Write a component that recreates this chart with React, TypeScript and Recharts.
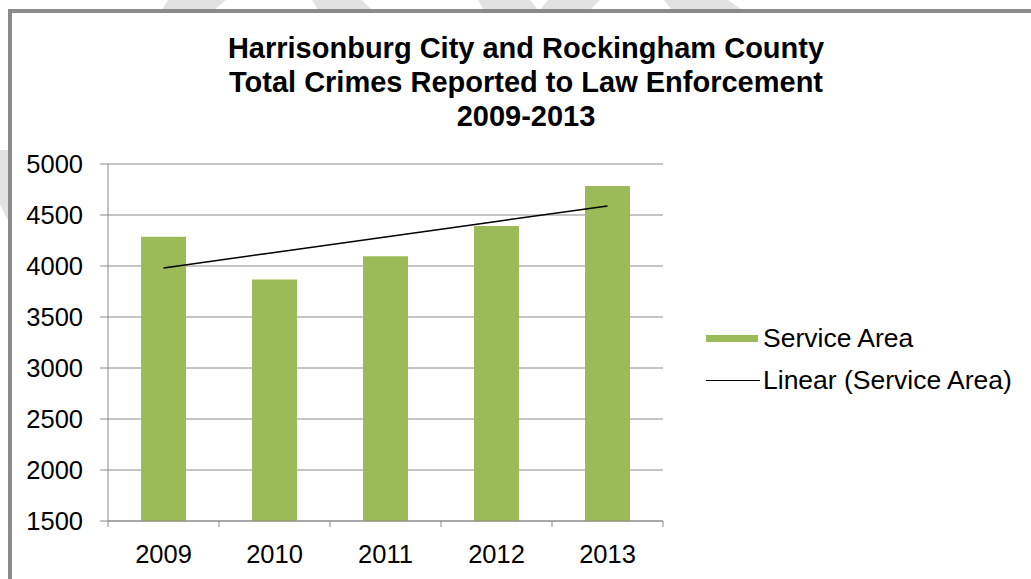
import React from 'react'
import { ComposedChart, Bar, Line, XAxis, YAxis, CartesianGrid, Legend } from 'recharts'

const years = ['2009', '2010', '2011', '2012', '2013']
const serviceArea = [4286, 3867, 4096, 4391, 4784]
const yTicks = [1500, 2000, 2500, 3000, 3500, 4000, 4500, 5000]
const titleLines = [
  'Harrisonburg City and Rockingham County',
  'Total Crimes Reported to Law Enforcement',
  '2009-2013',
]

// Excel-style linear trendline (least squares over the bar values)
const n = serviceArea.length
const meanX = (n - 1) / 2
const meanY = serviceArea.reduce((s, v) => s + v, 0) / n
const slope =
  serviceArea.reduce((s, v, i) => s + (i - meanX) * (v - meanY), 0) /
  serviceArea.reduce((s, _v, i) => s + (i - meanX) ** 2, 0)

const data = years.map((year, i) => ({
  year,
  value: serviceArea[i],
  trend: meanY + slope * (i - meanX),
}))

const FONT = '"Liberation Sans", Arial, sans-serif'
const GREEN = '#9bbb59'
const GRID = '#8a8a8a'

function YearTick(props: any) {
  const { x, y, payload } = props
  const half = payload.offset || 55.5
  const last = payload.value === years[years.length - 1]
  return (
    <g>
      <line x1={x - half} x2={x - half} y1={y} y2={y + 6} stroke={GRID} />
      {last && <line x1={x + half} x2={x + half} y1={y} y2={y + 6} stroke={GRID} />}
      <text x={x} y={y + 24} dy="0.71em" textAnchor="middle" fontSize={25.5} fill="#000" fontFamily={FONT}>
        {payload.value}
      </text>
    </g>
  )
}

function LegendBox() {
  const row = { display: 'flex', alignItems: 'center', height: 42, fontSize: 26.5, fontFamily: FONT, color: '#000' }
  return (
    <div>
      <div style={row}>
        <span style={{ display: 'inline-block', width: 52, height: 7, background: GREEN, marginRight: 5 }} />
        Service Area
      </div>
      <div style={row}>
        <span style={{ display: 'inline-block', width: 54, height: 0, borderTop: '1.5px solid #000', marginRight: 3 }} />
        Linear (Service Area)
      </div>
    </div>
  )
}

export default function App() {
  return (
    <div style={{ position: 'absolute', left: 0, top: 0, width: 1031, height: 579, background: '#fff', overflow: 'hidden' }}>
      {/* faint watermark fragments behind the frame */}
      <svg width={1031} height={579} style={{ position: 'absolute', left: 0, top: 0 }}>
        <polygon points="168,0 226,0 214,10 162,10" fill="#e2e2e2" />
        <polygon points="312,0 362,0 372,10 318,10" fill="#e2e2e2" />
        <polygon points="478,0 530,0 538,10 484,10" fill="#e2e2e2" />
        <polygon points="548,0 600,0 590,10 540,10" fill="#e2e2e2" />
        <polygon points="664,0 728,0 742,10 672,10" fill="#e2e2e2" />
        <polygon points="0,150 8,150 8,220 0,205" fill="#e2e2e2" />
      </svg>
      <div style={{ position: 'absolute', left: 8, top: 9, right: -10, bottom: -10, border: `4px solid ${GRID}`, background: '#fff' }} />
      <div
        style={{
          position: 'absolute',
          left: 176,
          width: 700,
          top: 31,
          textAlign: 'center',
          fontFamily: FONT,
          fontWeight: 'bold',
          fontSize: 29,
          lineHeight: '34px',
          color: '#000',
        }}
      >
        {titleLines.map((t) => (
          <div key={t}>{t}</div>
        ))}
      </div>
      <div style={{ position: 'absolute', left: 0, top: 0 }}>
        <ComposedChart width={1031} height={579} data={data} margin={{ top: 164, right: 368, bottom: 8, left: 8 }}>
          <CartesianGrid vertical={false} stroke={GRID} />
          <XAxis
            dataKey="year"
            height={50}
            axisLine={{ stroke: GRID }}
            tickLine={false}
            tickSize={0}
            tickMargin={0}
            tick={<YearTick />}
            interval={0}
          />
          <YAxis
            width={100}
            domain={[1500, 5000]}
            ticks={yTicks}
            interval={0}
            axisLine={{ stroke: GRID }}
            tickLine={{ stroke: GRID }}
            tickSize={8}
            tickMargin={17}
            tick={{ fontSize: 25.5, fill: '#000', fontFamily: FONT }}
          />
          <Legend
            layout="horizontal"
            align="center"
            verticalAlign="middle"
            wrapperStyle={{ left: 706, top: 317, width: 325 }}
            content={<LegendBox />}
          />
          <Bar dataKey="value" name="Service Area" fill={GREEN} barSize={45} isAnimationActive={false} />
          <Line
            dataKey="trend"
            name="Linear (Service Area)"
            type="linear"
            stroke="#000"
            strokeWidth={1.5}
            dot={false}
            activeDot={false}
            isAnimationActive={false}
          />
        </ComposedChart>
      </div>
    </div>
  )
}
